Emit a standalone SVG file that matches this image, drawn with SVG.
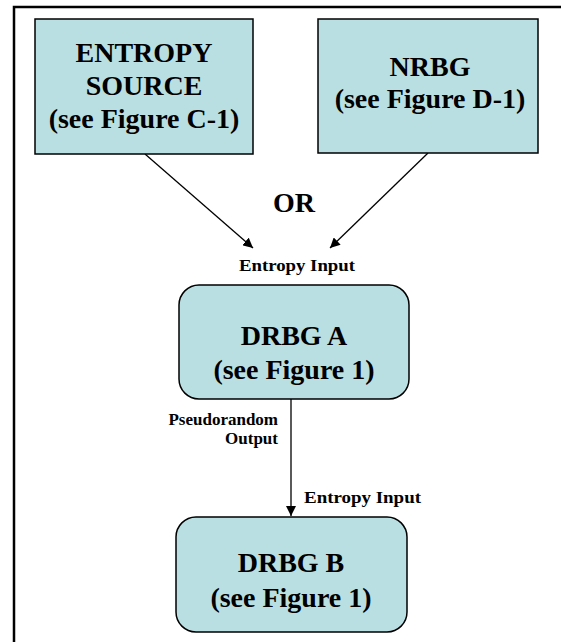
<svg xmlns="http://www.w3.org/2000/svg" width="561" height="642" viewBox="0 0 561 642">
<style>
.box{fill:#b9dfe2;stroke:#000;stroke-width:1.5}
.big{font-family:"Liberation Serif","Times New Roman",serif;font-weight:bold;font-size:28px;fill:#000;text-anchor:middle}
.small{font-family:"Liberation Serif","Times New Roman",serif;font-weight:bold;font-size:17px;fill:#000}
.conn{stroke:#000;stroke-width:1.3;fill:none;marker-end:url(#arr)}
</style>
<defs>
<marker id="arr" viewBox="0 0 10 10" refX="10" refY="5" markerWidth="10" markerHeight="10" markerUnits="userSpaceOnUse" orient="auto">
<path d="M0,0 L10,5 L0,10 z" fill="#000"/>
</marker>
</defs>
<rect width="561" height="642" fill="#fff"/>
<g id="frame" stroke="#000" stroke-width="2.5" fill="none">
<path d="M14,642 L14,7 L561,7"/>
</g>
<g id="connectors">
<line class="conn" x1="145" y1="154" x2="253" y2="248"/>
<line class="conn" x1="428" y1="153" x2="330" y2="248"/>
<line class="conn" x1="291" y1="399" x2="291" y2="516"/>
</g>
<g id="entropy-source">
<rect class="box" x="35" y="19" width="218" height="135"/>
<text class="big" x="144" y="62">ENTROPY</text>
<text class="big" x="144" y="95">SOURCE</text>
<text class="big" x="144" y="128">(see Figure C-1)</text>
</g>
<g id="nrbg">
<rect class="box" x="318" y="19" width="220" height="134"/>
<text class="big" x="430" y="76">NRBG</text>
<text class="big" x="430" y="108">(see Figure D-1)</text>
</g>
<g id="or-label">
<text class="big" x="294" y="212">OR</text>
</g>
<g id="drbg-a">
<text class="small" x="239" y="271" textLength="116" lengthAdjust="spacingAndGlyphs">Entropy Input</text>
<rect class="box" x="179" y="285" width="230" height="114" rx="20" ry="20"/>
<text class="big" x="294" y="345">DRBG A</text>
<text class="big" x="294" y="379">(see Figure 1)</text>
</g>
<g id="drbg-a-output">
<text class="small" x="278" y="425" text-anchor="end">Pseudorandom</text>
<text class="small" x="278" y="444" text-anchor="end">Output</text>
</g>
<g id="drbg-b">
<text class="small" x="304" y="503" textLength="117" lengthAdjust="spacingAndGlyphs">Entropy Input</text>
<rect class="box" x="176" y="517" width="231" height="115" rx="20" ry="20"/>
<text class="big" x="291" y="572">DRBG B</text>
<text class="big" x="291" y="607">(see Figure 1)</text>
</g>
</svg>
